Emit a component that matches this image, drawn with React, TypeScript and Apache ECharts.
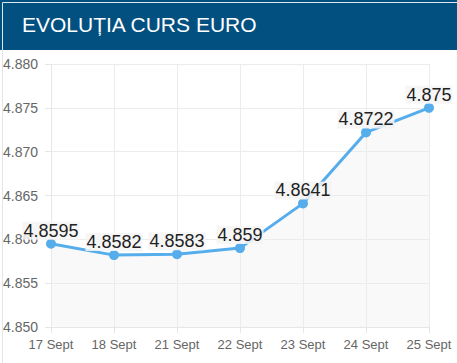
import React, { useEffect, useRef } from "react";
import * as echarts from "echarts";

const categories = ["17 Sept", "18 Sept", "21 Sept", "22 Sept", "23 Sept", "24 Sept", "25 Sept"];
const values = [4.8595, 4.8582, 4.8583, 4.859, 4.8641, 4.8722, 4.875];
const yMin = 4.85;
const yMax = 4.88;
const yStep = 0.005;
const title = "EVOLUȚIA CURS EURO";

export default function App() {
  const ref = useRef<HTMLDivElement>(null);
  useEffect(() => {
    document.body.style.margin = "0";
    const chart = echarts.init(ref.current!, null, { renderer: "svg" });
    chart.setOption({
      animation: false,
      backgroundColor: "#ffffff",
      graphic: [
        { type: "rect", left: 0, top: 0, shape: { width: 457, height: 50 }, style: { fill: "#02507f" }, z: 0 },
        {
          type: "text",
          left: 22,
          top: 14,
          style: { text: title, fill: "#ffffff", font: "21px 'Liberation Sans', Arial, sans-serif" },
          z: 1,
        },
        {
          type: "rect",
          left: 0,
          top: 0,
          shape: { width: 456, height: 362 },
          style: { fill: "none", stroke: "#dfe6ec", lineWidth: 1 },
          z: 0,
          silent: true,
        },
      ],
      grid: { left: 50, right: 28, top: 64, bottom: 36, containLabel: false },
      xAxis: {
        type: "category",
        data: categories,
        boundaryGap: false,
        axisLine: { show: true, lineStyle: { color: "#e6e6e6" } },
        axisTick: { show: true, alignWithLabel: true, length: 6, lineStyle: { color: "#e6e6e6" } },
        axisLabel: { color: "#666", fontSize: 13, fontFamily: "'Liberation Sans', Arial, sans-serif", margin: 11 },
        splitLine: { show: true, lineStyle: { color: "#ececec" } },
      },
      yAxis: {
        type: "value",
        min: yMin,
        max: yMax,
        interval: yStep,
        axisLine: { show: true, lineStyle: { color: "#e6e6e6" } },
        axisTick: { show: true, length: 6, lineStyle: { color: "#e6e6e6" } },
        axisLabel: {
          color: "#666",
          fontSize: 14,
          fontFamily: "'Liberation Sans', Arial, sans-serif",
          align: "left",
          margin: 48,
          formatter: (v: number) => v.toFixed(3),
        },
        splitLine: { show: true, lineStyle: { color: "#ececec" } },
      },
      series: [
        {
          type: "line",
          data: values,
          symbol: "circle",
          symbolSize: 10,
          itemStyle: { color: "#56adeb" },
          lineStyle: { color: "#56adeb", width: 3 },
          areaStyle: { color: "rgba(238,238,238,0.5)" },
          label: {
            show: true,
            position: "top",
            distance: -1,
            color: "#222",
            fontSize: 18,
            fontFamily: "'Liberation Sans', Arial, sans-serif",
            backgroundColor: "rgba(245,245,245,0.85)",
            padding: [0, 1],
            formatter: (p: any) => String(p.value),
          },
          z: 3,
        },
      ],
    });
    return () => chart.dispose();
  }, []);
  return <div ref={ref} style={{ position: "fixed", left: 0, top: 0, width: 457, height: 363 }} />;
}
